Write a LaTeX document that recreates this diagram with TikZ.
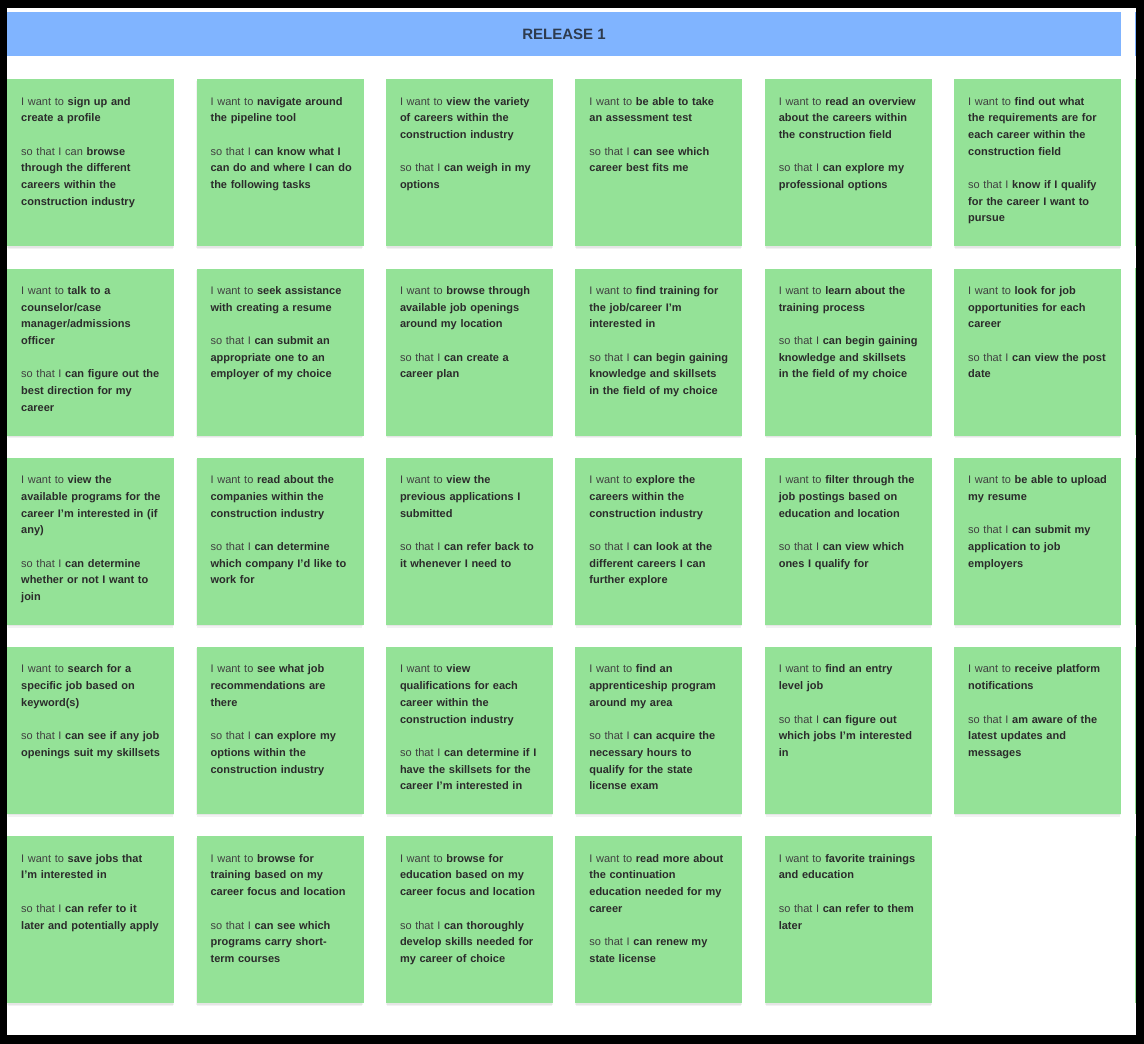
\documentclass[tikz,border=0pt]{standalone}
\usepackage{fontspec}
\setmainfont{Liberation Sans}
\usepackage{xcolor}
\definecolor{cardgreen}{HTML}{94E297}
\definecolor{bannerblue}{HTML}{80B4FF}
\definecolor{boldtext}{HTML}{2B2B2B}
\definecolor{regtext}{HTML}{404040}
\definecolor{bannertext}{HTML}{2E3B4E}
\newcommand\rg[1]{{\mdseries\color{regtext}#1}}
\newcommand\usercard[4]{%
  \pgfmathsetmacro\cx{7+189.4*#2}%
  \pgfmathsetmacro\cy{79+189.3*#3}%
  \fill[black,opacity=0.05] (\cx+1,\cy+3) rectangle ++(165,167);
  \fill[black,opacity=0.05] (\cx,\cy+1.5) rectangle ++(167,167);
  \node[card] (#1) at (\cx,\cy) {};
  \node[cardtext] (#1t) at (\cx+14,\cy+26) {#4};
}
\begin{document}
\begin{tikzpicture}[x=1pt,y=-1pt,
  card/.style={fill=cardgreen, draw=none, minimum width=167pt, minimum height=167pt, inner sep=0pt, anchor=north west},
  cardtext/.style={anchor=base west, text width=150pt, align=left, inner sep=0pt, font=\fontsize{11pt}{16.7pt}\selectfont\bfseries, text=boldtext},
  strip/.style={draw=none}]
\useasboundingbox (0,0) rectangle (1144,1044);
\fill[black] (0,0) rectangle (1144,1044);
\fill[white] (7,8) rectangle (1136,1035);
% banner
\node[fill=bannerblue, minimum width=1114pt, minimum height=44pt, anchor=north west, inner sep=0pt] (banner) at (7,12) {};
\node[font=\fontsize{15pt}{18pt}\selectfont\bfseries, text=bannertext] (bannerlabel) at (564,34) {RELEASE 1};
% glimpses of the next column at the right edge
\fill[bannerblue] (1135,12) rectangle (1136,56);
\foreach \r in {0,...,4} {\fill[cardgreen] (1135,{79+189.3*\r}) rectangle (1136,{246+189.3*\r});}
% row 1
\usercard{c11}{0}{0}{\rg{I want to} sign up and\\create a profile\\[16.7pt]\rg{so that I can} browse\\through the different\\careers within the\\construction industry}
\usercard{c12}{1}{0}{\rg{I want to} navigate around\\the pipeline tool\\[16.7pt]\rg{so that I} can know what I\\can do and where I can do\\the following tasks}
\usercard{c13}{2}{0}{\rg{I want to} view the variety\\of careers within the\\construction industry\\[16.7pt]\rg{so that I} can weigh in my\\options}
\usercard{c14}{3}{0}{\rg{I want to} be able to take\\an assessment test\\[16.7pt]\rg{so that I} can see which\\career best fits me}
\usercard{c15}{4}{0}{\rg{I want to} read an overview\\about the careers within\\the construction field\\[16.7pt]\rg{so that I} can explore my\\professional options}
\usercard{c16}{5}{0}{\rg{I want to} find out what\\the requirements are for\\each career within the\\construction field\\[16.7pt]\rg{so that I} know if I qualify\\for the career I want to\\pursue}
% row 2
\usercard{c21}{0}{1}{\rg{I want to} talk to a\\counselor/case\\manager/admissions\\officer\\[16.7pt]\rg{so that I} can figure out the\\best direction for my\\career}
\usercard{c22}{1}{1}{\rg{I want to} seek assistance\\with creating a resume\\[16.7pt]\rg{so that I} can submit an\\appropriate one to an\\employer of my choice}
\usercard{c23}{2}{1}{\rg{I want to} browse through\\available job openings\\around my location\\[16.7pt]\rg{so that I} can create a\\career plan}
\usercard{c24}{3}{1}{\rg{I want to} find training for\\the job/career I'm\\interested in\\[16.7pt]\rg{so that I} can begin gaining\\knowledge and skillsets\\in the field of my choice}
\usercard{c25}{4}{1}{\rg{I want to} learn about the\\training process\\[16.7pt]\rg{so that I} can begin gaining\\knowledge and skillsets\\in the field of my choice}
\usercard{c26}{5}{1}{\rg{I want to} look for job\\opportunities for each\\career\\[16.7pt]\rg{so that I} can view the post\\date}
% row 3
\usercard{c31}{0}{2}{\rg{I want to} view the\\available programs for the\\career I'm interested in (if\\any)\\[16.7pt]\rg{so that I} can determine\\whether or not I want to\\join}
\usercard{c32}{1}{2}{\rg{I want to} read about the\\companies within the\\construction industry\\[16.7pt]\rg{so that I} can determine\\which company I'd like to\\work for}
\usercard{c33}{2}{2}{\rg{I want to} view the\\previous applications I\\submitted\\[16.7pt]\rg{so that I} can refer back to\\it whenever I need to}
\usercard{c34}{3}{2}{\rg{I want to} explore the\\careers within the\\construction industry\\[16.7pt]\rg{so that I} can look at the\\different careers I can\\further explore}
\usercard{c35}{4}{2}{\rg{I want to} filter through the\\job postings based on\\education and location\\[16.7pt]\rg{so that I} can view which\\ones I qualify for}
\usercard{c36}{5}{2}{\rg{I want to} be able to upload\\my resume\\[16.7pt]\rg{so that I} can submit my\\application to job\\employers}
% row 4
\usercard{c41}{0}{3}{\rg{I want to} search for a\\specific job based on\\keyword(s)\\[16.7pt]\rg{so that I} can see if any job\\openings suit my skillsets}
\usercard{c42}{1}{3}{\rg{I want to} see what job\\recommendations are\\there\\[16.7pt]\rg{so that I} can explore my\\options within the\\construction industry}
\usercard{c43}{2}{3}{\rg{I want to} view\\qualifications for each\\career within the\\construction industry\\[16.7pt]\rg{so that I} can determine if I\\have the skillsets for the\\career I'm interested in}
\usercard{c44}{3}{3}{\rg{I want to} find an\\apprenticeship program\\around my area\\[16.7pt]\rg{so that I} can acquire the\\necessary hours to\\qualify for the state\\license exam}
\usercard{c45}{4}{3}{\rg{I want to} find an entry\\level job\\[16.7pt]\rg{so that I} can figure out\\which jobs I'm interested\\in}
\usercard{c46}{5}{3}{\rg{I want to} receive platform\\notifications\\[16.7pt]\rg{so that I} am aware of the\\latest updates and\\messages}
% row 5
\usercard{c51}{0}{4}{\rg{I want to} save jobs that\\I'm interested in\\[16.7pt]\rg{so that I} can refer to it\\later and potentially apply}
\usercard{c52}{1}{4}{\rg{I want to} browse for\\training based on my\\career focus and location\\[16.7pt]\rg{so that I} can see which\\programs carry short-\\term courses}
\usercard{c53}{2}{4}{\rg{I want to} browse for\\education based on my\\career focus and location\\[16.7pt]\rg{so that I} can thoroughly\\develop skills needed for\\my career of choice}
\usercard{c54}{3}{4}{\rg{I want to} read more about\\the continuation\\education needed for my\\career\\[16.7pt]\rg{so that I} can renew my\\state license}
\usercard{c55}{4}{4}{\rg{I want to} favorite trainings\\and education\\[16.7pt]\rg{so that I} can refer to them\\later}
\end{tikzpicture}
\end{document}
